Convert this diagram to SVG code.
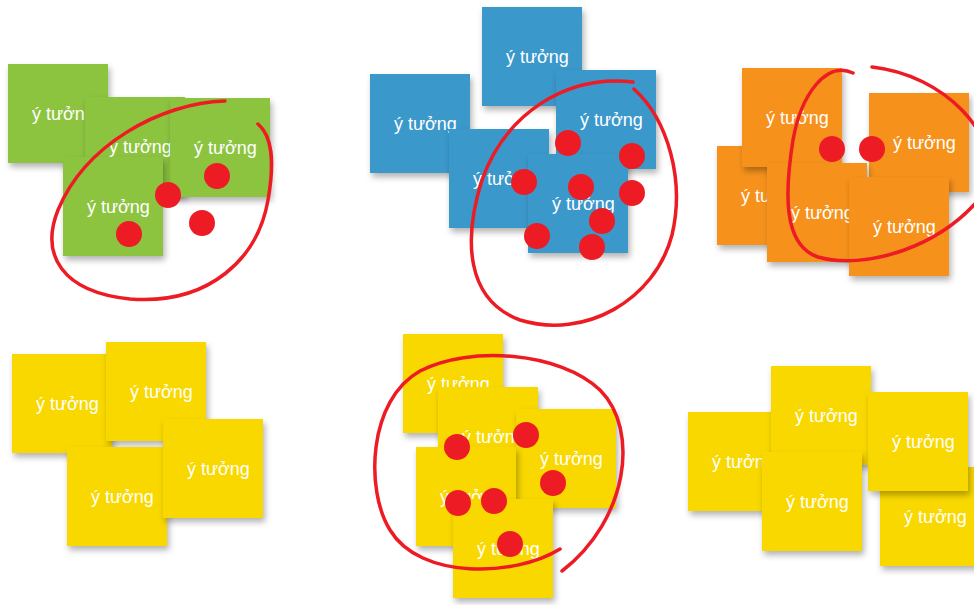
<svg xmlns="http://www.w3.org/2000/svg" width="974" height="605" viewBox="0 0 974 605">
<defs>
<filter id="sh" x="-20%" y="-20%" width="150%" height="150%">
<feDropShadow dx="2" dy="4" stdDeviation="3" flood-color="#000" flood-opacity="0.3"/>
</filter>
</defs>
<style>
.n rect{width:100px;height:99px;filter:url(#sh)}
.gr rect{fill:#8cc43f}
.bl rect{fill:#3a98cb}
.or rect{fill:#f6921e}
.ye rect{fill:#f9d800}
.n text{fill:#fff;font-family:"Liberation Sans","DejaVu Sans",sans-serif;font-size:18px}
.loop{fill:none;stroke:#ed1c24;stroke-width:3.5;stroke-linecap:round}
.dot{fill:#ed1c24}
</style>
<rect width="974" height="605" fill="#fff"/>

<!-- green cluster -->
<g id="green" class="gr">
<g id="g1" class="n"><rect x="8" y="64"/><text x="32" y="120">ý tưởng</text></g>
<g id="g2" class="n"><rect x="85" y="97"/><text x="109" y="153">ý tưởng</text></g>
<g id="g3" class="n"><rect x="170" y="98"/><text x="194" y="154">ý tưởng</text></g>
<g id="g4" class="n"><rect x="63" y="157"/><text x="87" y="213">ý tưởng</text></g>
</g>

<!-- blue cluster -->
<g id="blue" class="bl">
<g id="b1" class="n"><rect x="482" y="7"/><text x="506" y="63">ý tưởng</text></g>
<g id="b2" class="n"><rect x="370" y="74"/><text x="394" y="130">ý tưởng</text></g>
<g id="b3" class="n"><rect x="556" y="70"/><text x="580" y="126">ý tưởng</text></g>
<g id="b4" class="n"><rect x="449" y="129"/><text x="473" y="185">ý tưởng</text></g>
<g id="b5" class="n"><rect x="528" y="154"/><text x="552" y="210">ý tưởng</text></g>
</g>

<!-- orange cluster -->
<g id="orange" class="or">
<g id="o2" class="n"><rect x="717" y="146"/><text x="741" y="202">ý tưởng</text></g>
<g id="o1" class="n"><rect x="742" y="68"/><text x="766" y="124">ý tưởng</text></g>
<g id="o3" class="n"><rect x="869" y="93"/><text x="893" y="149">ý tưởng</text></g>
<g id="o4" class="n"><rect x="767" y="163"/><text x="791" y="219">ý tưởng</text></g>
<g id="o5" class="n"><rect x="849" y="177"/><text x="873" y="233">ý tưởng</text></g>
</g>

<!-- yellow left cluster -->
<g id="yellowL" class="ye">
<g id="yl1" class="n"><rect x="12" y="354"/><text x="36" y="410">ý tưởng</text></g>
<g id="yl2" class="n"><rect x="106" y="342"/><text x="130" y="398">ý tưởng</text></g>
<g id="yl3" class="n"><rect x="67" y="447"/><text x="91" y="503">ý tưởng</text></g>
<g id="yl4" class="n"><rect x="163" y="419"/><text x="187" y="475">ý tưởng</text></g>
</g>

<!-- yellow middle cluster -->
<g id="yellowM" class="ye">
<g id="ym1" class="n"><rect x="403" y="334"/><text x="427" y="390">ý tưởng</text></g>
<g id="ym2" class="n"><rect x="438" y="387"/><text x="462" y="443">ý tưởng</text></g>
<g id="ym3" class="n"><rect x="516" y="409"/><text x="540" y="465">ý tưởng</text></g>
<g id="ym4" class="n"><rect x="416" y="447"/><text x="440" y="503">ý tưởng</text></g>
<g id="ym5" class="n"><rect x="453" y="499"/><text x="477" y="555">ý tưởng</text></g>
</g>

<!-- yellow right cluster -->
<g id="yellowR" class="ye">
<g id="yr1" class="n"><rect x="688" y="412"/><text x="712" y="468">ý tưởng</text></g>
<g id="yr2" class="n"><rect x="771" y="366"/><text x="795" y="422">ý tưởng</text></g>
<g id="yr5" class="n"><rect x="880" y="467"/><text x="904" y="523">ý tưởng</text></g>
<g id="yr4" class="n"><rect x="868" y="392"/><text x="892" y="448">ý tưởng</text></g>
<g id="yr3" class="n"><rect x="762" y="452"/><text x="786" y="508">ý tưởng</text></g>
</g>

<!-- red marks -->
<g id="marks">
<path class="loop" d="M225,101 C160,103 85,145 58,210 C40,255 62,292 130,299 C210,305 258,258 268,200 C275,160 272,136 258,124"/>
<path class="loop" d="M633,82 C565,74 505,115 482,180 C463,240 466,300 520,320 C585,340 655,300 672,235 C685,180 668,120 634,89"/>
<path class="loop" d="M853,73 C826,60 801,95 793,140 C785,190 782,245 818,257 C862,270 945,250 990,185 C1000,135 945,75 872,67"/>
<path class="loop" d="M560,549 C515,577 420,580 390,530 C365,490 368,400 420,371 C470,345 560,352 600,390 C640,430 628,520 562,571"/>
<circle class="dot" cx="217" cy="176" r="13"/>
<circle class="dot" cx="168" cy="195" r="13"/>
<circle class="dot" cx="202" cy="223" r="13"/>
<circle class="dot" cx="129" cy="234" r="13"/>
<circle class="dot" cx="568" cy="143" r="13"/>
<circle class="dot" cx="632" cy="156" r="13"/>
<circle class="dot" cx="524" cy="182" r="13"/>
<circle class="dot" cx="581" cy="187" r="13"/>
<circle class="dot" cx="632" cy="193" r="13"/>
<circle class="dot" cx="602" cy="221" r="13"/>
<circle class="dot" cx="537" cy="236" r="13"/>
<circle class="dot" cx="592" cy="247" r="13"/>
<circle class="dot" cx="832" cy="149" r="13"/>
<circle class="dot" cx="872" cy="149" r="13"/>
<circle class="dot" cx="457" cy="447" r="13"/>
<circle class="dot" cx="526" cy="435" r="13"/>
<circle class="dot" cx="553" cy="483" r="13"/>
<circle class="dot" cx="458" cy="503" r="13"/>
<circle class="dot" cx="494" cy="501" r="13"/>
<circle class="dot" cx="510" cy="544" r="13"/>
</g>
</svg>
